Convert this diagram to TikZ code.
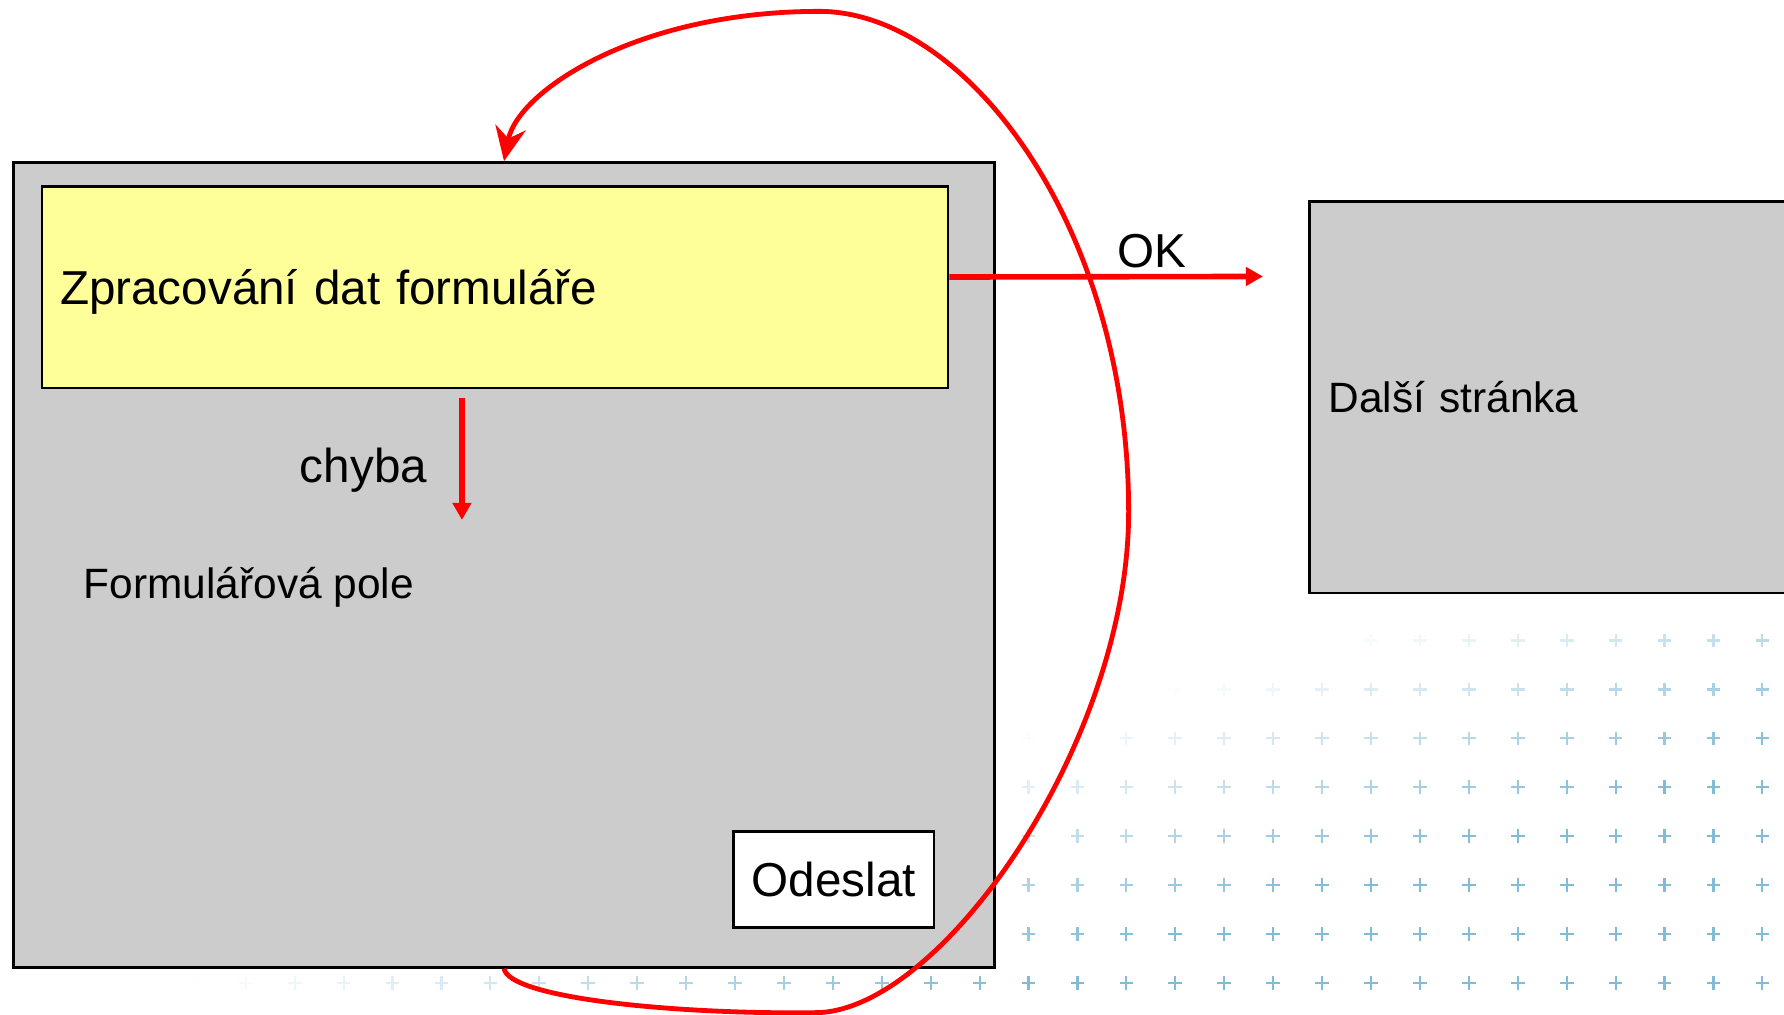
\documentclass[tikz,border=0pt]{standalone}
\usepackage{fontspec}
\setmainfont{Liberation Sans}
\usetikzlibrary{arrows.meta}

\definecolor{boxgray}{HTML}{CCCCCC}
\definecolor{procyellow}{HTML}{FFFF99}
\definecolor{plusblue}{HTML}{74B4D2}

\newcommand\lblfont{\fontsize{11.9}{14}\selectfont}
\newcommand\txtfont{\fontsize{10.6}{13}\selectfont}

\tikzset{
  pagebox/.style={draw=black, fill=boxgray, line width=0.65pt, inner sep=0pt},
  flow/.style={draw=red, line width=1.4pt, -{Triangle[length=0.15cm,width=0.16cm]}},
  backloop/.style={draw=red, line width=1.2pt, -{Stealth[length=0.3cm,width=0.27cm]}},
  plusmark/.style={plusblue, line width=0.55pt}
}

\begin{document}
\begin{tikzpicture}[x=0.01cm, y=-0.01cm]
  \useasboundingbox (0,0) rectangle (1568,892);

  % background pattern
  \foreach \i in {0,...,32}
    \foreach \j in {0,...,7}{
      \pgfmathsetmacro\px{1549-43*\i}
      \pgfmathsetmacro\py{864-43*\j}
      \pgfmathsetmacro\op{max(0,min(0.9,((\px-1160)+3.3*(\py-563))/800))}
      \draw[plusmark, opacity=\op] (\px-6,\py) -- (\px+6,\py) (\px,\py-6) -- (\px,\py+6);
    }

  \node (form) [pagebox, minimum width=8.62cm, minimum height=7.07cm] at (443,496.5) {};
  \node (proc) [pagebox, fill=procyellow, minimum width=7.96cm, minimum height=1.77cm,
                text width=7.64cm, inner xsep=0.16cm, align=left, font=\lblfont,
                text height=0.31cm, text depth=0pt] at (435,252.5)
                {Zpracování dat formuláře};
  \node (send) [pagebox, fill=white, minimum width=1.76cm, minimum height=0.84cm, font=\lblfont] at (733,773) {Odeslat};
  \node (next) [pagebox, minimum width=4.49cm, minimum height=3.44cm,
                text width=4.15cm, inner xsep=0.17cm, align=left, font=\txtfont] at (1375.5,349)
                {Další stránka};

  \node (fields) [anchor=base west, inner sep=0pt, font=\txtfont] at (73,526) {Formulářová pole};
  \node (errlbl) [anchor=base east, inner sep=0pt, font=\lblfont] at (376,424) {chyba};

  \coordinate (errend) at (406,457);
  \coordinate (okend) at (1110,243);
  \draw[flow] ([yshift=-0.08cm]proc.south -| errend) -- (errend);
  \draw[flow] ([yshift=0.09cm]proc.east) -- (okend)
    node[pos=0.646, above, inner sep=0.05cm, font=\lblfont, text=black] (oklbl) {OK};

  \draw[backloop] (form.south) .. controls (448,878) and (600,892) .. (720,890)
    .. controls (830,885) and (992,650) .. (992,450)
    .. controls (992,200) and (850,10) .. (720,10)
    .. controls (560,10) and (455,80) .. (form.north);
\end{tikzpicture}
\end{document}
